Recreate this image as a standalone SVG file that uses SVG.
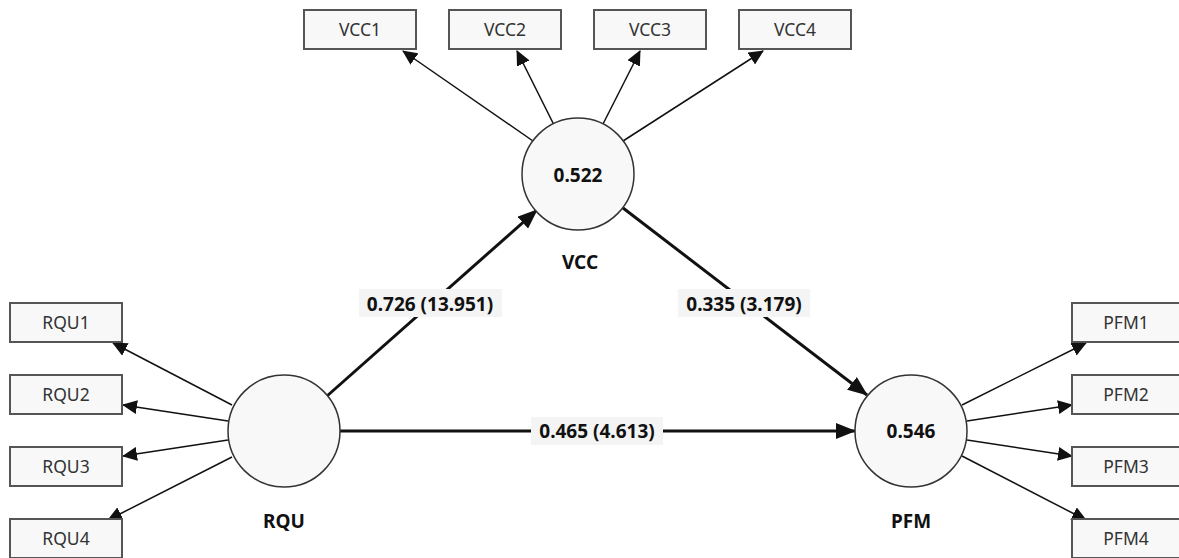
<svg xmlns="http://www.w3.org/2000/svg" width="1179" height="558" viewBox="0 0 1179 558">
  <style>
    .ind { fill: #f8f8f8; stroke: #555; stroke-width: 2; }
    .lat { fill: #f8f8f8; stroke: #333; stroke-width: 1.5; }
    .itext { font-family: "Noto Sans", "Liberation Sans", sans-serif; font-size: 17.5px; fill: #333; text-anchor: middle; }
    .ltext { font-family: "Noto Sans", "Liberation Sans", sans-serif; font-size: 19px; font-weight: bold; fill: #111; text-anchor: middle; }
    .load { stroke: #111; stroke-width: 1.5; fill: none; marker-end: url(#headS); }
    .path { stroke: #111; stroke-width: 3; fill: none; marker-end: url(#headL); }
    .lbg { fill: #f4f4f4; }
  </style>
  <defs>
    <marker id="headS" viewBox="0 0 15 14" refX="14" refY="7" markerWidth="15" markerHeight="14" markerUnits="userSpaceOnUse" orient="auto">
      <path d="M0,0 L15,7 L0,14 z" fill="#111"/>
    </marker>
    <marker id="headL" viewBox="0 0 20 16" refX="19" refY="8" markerWidth="20" markerHeight="16" markerUnits="userSpaceOnUse" orient="auto">
      <path d="M0,0 L20,8 L0,16 z" fill="#111"/>
    </marker>
  </defs>

  <!-- connectors: outer loadings and structural paths -->
  <g id="connectors">
    <line class="load" x1="533" y1="141" x2="403" y2="51"/>
    <line class="load" x1="554" y1="125" x2="517" y2="51"/>
    <line class="load" x1="603" y1="124" x2="640" y2="51"/>
    <line class="load" x1="623" y1="141" x2="763" y2="51"/>

    <line class="load" x1="232" y1="405" x2="113" y2="343"/>
    <line class="load" x1="228" y1="421" x2="123" y2="405"/>
    <line class="load" x1="228" y1="440" x2="123" y2="456"/>
    <line class="load" x1="232" y1="457" x2="108" y2="520"/>

    <line class="load" x1="962" y1="405" x2="1086" y2="343"/>
    <line class="load" x1="967" y1="421" x2="1072" y2="405"/>
    <line class="load" x1="967" y1="440" x2="1072" y2="456"/>
    <line class="load" x1="962" y1="456" x2="1086" y2="520"/>

    <line class="path" x1="327" y1="396" x2="537" y2="210"/>
    <line class="path" x1="623" y1="208" x2="867" y2="395"/>
    <line class="path" x1="340" y1="431" x2="855" y2="431"/>

    <rect class="lbg" x="359" y="289" width="143" height="28"/>
    <text class="ltext" x="430" y="311">0.726 (13.951)</text>
    <rect class="lbg" x="678" y="289" width="132" height="28"/>
    <text class="ltext" x="744" y="311">0.335 (3.179)</text>
    <rect class="lbg" x="531" y="417" width="132" height="28"/>
    <text class="ltext" x="597" y="438">0.465 (4.613)</text>
  </g>

  <!-- latent variables -->
  <g id="VCC">
    <circle class="lat" cx="578" cy="174" r="56"/>
    <text class="ltext" x="578" y="182">0.522</text>
    <text class="ltext" x="580" y="269">VCC</text>
  </g>
  <g id="RQU">
    <circle class="lat" cx="284" cy="431" r="56"/>
    <text class="ltext" x="284" y="528">RQU</text>
  </g>
  <g id="PFM">
    <circle class="lat" cx="911" cy="431" r="56"/>
    <text class="ltext" x="911" y="438">0.546</text>
    <text class="ltext" x="911" y="528">PFM</text>
  </g>

  <!-- indicators of VCC -->
  <g id="VCC1"><rect class="ind" x="304" y="10" width="112" height="39"/><text class="itext" x="360" y="36">VCC1</text></g>
  <g id="VCC2"><rect class="ind" x="449" y="10" width="112" height="39"/><text class="itext" x="505" y="36">VCC2</text></g>
  <g id="VCC3"><rect class="ind" x="594" y="10" width="112" height="39"/><text class="itext" x="650" y="36">VCC3</text></g>
  <g id="VCC4"><rect class="ind" x="739" y="10" width="112" height="39"/><text class="itext" x="795" y="36">VCC4</text></g>

  <!-- indicators of RQU -->
  <g id="RQU1"><rect class="ind" x="10" y="303" width="112" height="39"/><text class="itext" x="66" y="329">RQU1</text></g>
  <g id="RQU2"><rect class="ind" x="10" y="375" width="112" height="39"/><text class="itext" x="66" y="401">RQU2</text></g>
  <g id="RQU3"><rect class="ind" x="10" y="447" width="112" height="39"/><text class="itext" x="66" y="473">RQU3</text></g>
  <g id="RQU4"><rect class="ind" x="10" y="519" width="112" height="39"/><text class="itext" x="66" y="545">RQU4</text></g>

  <!-- indicators of PFM -->
  <g id="PFM1"><rect class="ind" x="1072" y="303" width="112" height="39"/><text class="itext" x="1126" y="329">PFM1</text></g>
  <g id="PFM2"><rect class="ind" x="1072" y="375" width="112" height="39"/><text class="itext" x="1126" y="401">PFM2</text></g>
  <g id="PFM3"><rect class="ind" x="1072" y="447" width="112" height="39"/><text class="itext" x="1126" y="473">PFM3</text></g>
  <g id="PFM4"><rect class="ind" x="1072" y="519" width="112" height="39"/><text class="itext" x="1126" y="545">PFM4</text></g>
</svg>
